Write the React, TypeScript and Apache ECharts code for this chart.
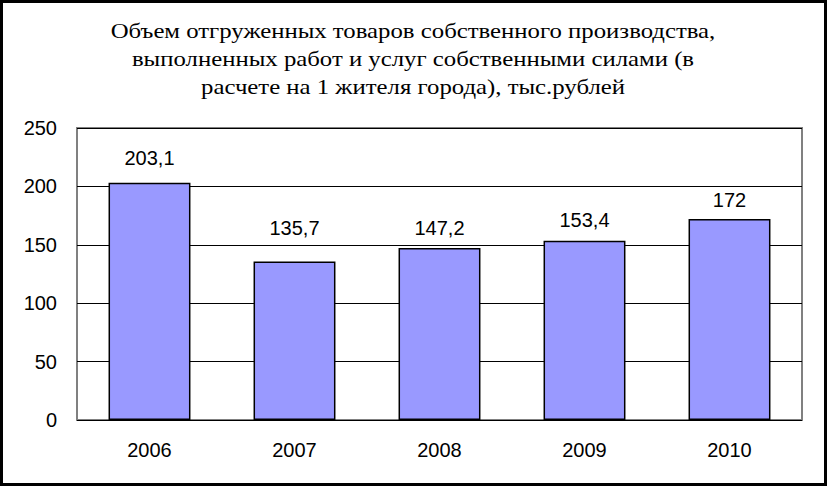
import React, { useEffect, useRef } from "react";
import * as echarts from "echarts";

const titleLines = [
  "Объем отгруженных товаров собственного производства,",
  "выполненных работ и услуг собственными силами (в",
  "расчете на 1 жителя города), тыс.рублей",
];
const years = ["2006", "2007", "2008", "2009", "2010"];
const values = [203.1, 135.7, 147.2, 153.4, 172];
const yTicks = { min: 0, max: 250, interval: 50 };
// label gap above each bar, as placed in the reference
const labelGaps = [14.5, 23.5, 10, 10.5, 9.5];

const SANS = "Liberation Sans";
const SERIF = "Liberation Serif";

export default function App() {
  const ref = useRef<HTMLDivElement>(null);
  useEffect(() => {
    document.body.style.margin = "0";
    const chart = echarts.init(ref.current!, null, { renderer: "svg" });
    chart.setOption({
      animation: false,
      backgroundColor: "#ffffff",
      graphic: [
        {
          type: "rect",
          shape: { x: 1.5, y: 1.5, width: 824, height: 483 },
          style: { fill: "none", stroke: "#000", lineWidth: 3 },
          silent: true,
        },
        ...titleLines.map((t, i) => ({
          type: "text",
          x: 413,
          y: 31 + i * 28.3,
          scaleX: 1.18,
          silent: true,
          style: {
            text: t,
            fontFamily: SERIF,
            fontSize: 21,
            fill: "#000",
            align: "center",
            verticalAlign: "middle",
          },
        })),
      ],
      grid: {
        left: 77,
        top: 128,
        right: 25,
        bottom: 66,
        show: true,
        borderColor: "#808080",
        borderWidth: 2,
        containLabel: false,
      },
      xAxis: {
        type: "category",
        data: years,
        axisLine: { show: false },
        axisTick: { show: false },
        axisLabel: {
          fontFamily: SANS,
          fontSize: 20,
          color: "#000",
          margin: 20,
        },
      },
      yAxis: {
        type: "value",
        min: yTicks.min,
        max: yTicks.max,
        interval: yTicks.interval,
        axisLine: { show: false },
        axisTick: { show: false },
        axisLabel: {
          fontFamily: SANS,
          fontSize: 20,
          color: "#000",
          margin: 20,
        },
        splitLine: { lineStyle: { color: "#000", width: 1 } },
      },
      series: [
        {
          type: "bar",
          data: values.map((v, i) => ({ value: v, label: { distance: labelGaps[i] } })),
          barWidth: "56.5%",
          itemStyle: { color: "#9999FF", borderColor: "#000", borderWidth: 1.5 },
          label: {
            show: true,
            position: "top",
            fontFamily: SANS,
            fontSize: 20,
            color: "#000",
            formatter: (p: any) => String(p.value).replace(".", ","),
          },
        },
      ],
    });
    return () => chart.dispose();
  }, []);
  return <div ref={ref} style={{ width: 827, height: 486 }} />;
}
